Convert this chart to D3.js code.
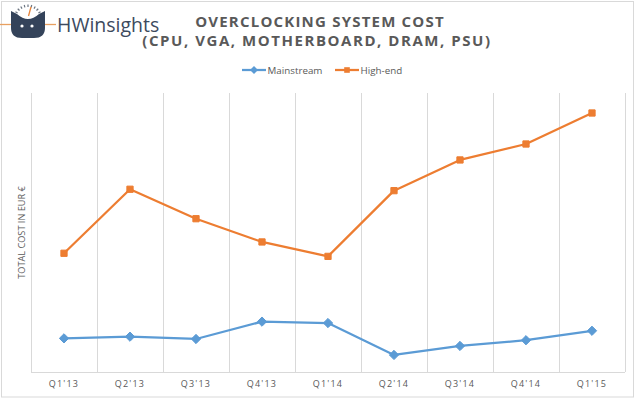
<!DOCTYPE html>
<html>

<head>
    <title>Overclocking System Cost</title>
    <script src="https://cdn.jsdelivr.net/npm/d3@7"></script>
    <style>
        body { margin: 0; background: #fff; }
        text { font-family: 'Open Sans', sans-serif; }
    </style>
</head>

<body>
    <svg width="640" height="399" id="mainsvg"></svg>
    <script>
        const quarters = ["Q1'13", "Q2'13", "Q3'13", "Q4'13", "Q1'14", "Q2'14", "Q3'14", "Q4'14", "Q1'15"];
        const mainstream = [617, 628, 613, 725, 716, 510, 568, 605, 666];
        const highEnd = [1166, 1579, 1389, 1239, 1146, 1570, 1768, 1871, 2071];
        const seriesNames = ['Mainstream', 'High-end'];
        const seriesColors = ['#5b9bd5', '#ed7d31'];

        const svg = d3.select('#mainsvg');
        const width = +svg.attr('width');
        const height = +svg.attr('height');
        const margin = { top: 93, right: 15, bottom: 27, left: 31 };
        const innerWidth = width - margin.left - margin.right;
        const innerHeight = height - margin.top - margin.bottom;

        // outer frame
        svg.append('rect').attr('x', 1.5).attr('y', 1.5).attr('width', 632).attr('height', 395.5)
            .attr('fill', '#fff').attr('stroke', '#d9d9d9');

        const g = svg.append('g').attr('id', 'maingroup')
            .attr('transform', `translate(${margin.left}, ${margin.top})`);

        const xScale = d3.scaleBand().domain(quarters).range([0, innerWidth]);
        const yScale = d3.scaleLinear().domain([400, 2200]).range([innerHeight, 0]);

        // vertical gridlines between categories
        const bounds = quarters.map(q => xScale(q)).concat([innerWidth]);
        g.selectAll('.grid').data(bounds).join('line')
            .attr('class', 'grid')
            .attr('x1', d => Math.round(d) + 0.5).attr('x2', d => Math.round(d) + 0.5)
            .attr('y1', 0).attr('y2', innerHeight)
            .attr('stroke', '#d9d9d9');

        const xAxis = d3.axisBottom(xScale).tickSize(0).tickPadding(9);
        const xAxisGroup = g.append('g').call(xAxis)
            .attr('transform', `translate(0, ${innerHeight})`);
        xAxisGroup.select('.domain').attr('stroke', '#d9d9d9').attr('d', `M0,0.5H${innerWidth}`);
        xAxisGroup.selectAll('text')
            .attr('fill', '#595959').attr('font-size', '9px')
            .attr('letter-spacing', '1.2px')
            .style('font-family', "'Open Sans', sans-serif");

        // y axis title
        svg.append('text')
            .attr('transform', `translate(25, ${margin.top + innerHeight / 2}) rotate(-90)`)
            .attr('text-anchor', 'middle')
            .attr('font-size', '9.2px').attr('fill', '#595959')
            .text('TOTAL COST IN EUR €');

        const line = d3.line()
            .x((d, i) => xScale(quarters[i]) + xScale.bandwidth() / 2)
            .y(d => yScale(d));

        [mainstream, highEnd].forEach((vals, s) => {
            g.append('path').datum(vals)
                .attr('fill', 'none')
                .attr('stroke', seriesColors[s])
                .attr('stroke-width', 2.25)
                .attr('stroke-linejoin', 'round')
                .attr('d', line);
            const sym = d3.symbol().type(s === 0 ? d3.symbolDiamond2 : d3.symbolSquare2).size(s === 0 ? 55 : 50);
            g.selectAll('.mark' + s).data(vals).join('path')
                .attr('class', 'mark' + s)
                .attr('transform', (d, i) => `translate(${xScale(quarters[i]) + xScale.bandwidth() / 2}, ${yScale(d)})`)
                .attr('d', sym)
                .attr('fill', seriesColors[s])
                .attr('stroke', seriesColors[s]);
        });

        // legend
        const legendX = [242, 335];
        seriesNames.forEach((name, s) => {
            const lg = svg.append('g').attr('transform', `translate(${legendX[s]}, 70)`);
            lg.append('line').attr('x1', 0).attr('x2', 24).attr('y1', 0).attr('y2', 0)
                .attr('stroke', seriesColors[s]).attr('stroke-width', 2.25);
            lg.append('path')
                .attr('transform', 'translate(12,0)')
                .attr('d', d3.symbol().type(s === 0 ? d3.symbolDiamond2 : d3.symbolSquare2).size(40))
                .attr('fill', seriesColors[s]);
            lg.append('text').attr('x', 25.5).attr('y', 3.8)
                .attr('font-size', '9.8px').attr('fill', '#595959')
                .text(name);
        });

        // titles
        svg.append('text').attr('x', 320).attr('y', 27)
            .attr('text-anchor', 'middle').attr('font-size', '15px').attr('font-weight', 'bold')
            .attr('letter-spacing', '1.2px').attr('fill', '#595959')
            .text('OVERCLOCKING SYSTEM COST');
        svg.append('text').attr('x', 317).attr('y', 46)
            .attr('text-anchor', 'middle').attr('font-size', '15px').attr('font-weight', 'bold')
            .attr('letter-spacing', '1.55px').attr('fill', '#595959')
            .text('(CPU, VGA, MOTHERBOARD, DRAM, PSU)');

        // logo
        const logo = svg.append('g').attr('id', 'logo');
        logo.append('line').attr('x1', 0).attr('x2', 11).attr('y1', 24.5).attr('y2', 24.5)
            .attr('stroke', '#e8a060').attr('stroke-width', 1.3);
        logo.append('line').attr('x1', 45).attr('x2', 56).attr('y1', 24.5).attr('y2', 24.5)
            .attr('stroke', '#e8a060').attr('stroke-width', 1.3);
        logo.append('path')
            .attr('d', 'M11,11 L17,14 Q28,24 39,14 L45,11 L45,28 Q45,38 34,38 L22,38 Q11,38 11,28 Z')
            .attr('fill', '#34435a');
        [22, 32].forEach(cx => logo.append('circle').attr('cx', cx).attr('cy', 26).attr('r', 1.6).attr('fill', '#fff'));
        d3.range(-150, -25, 15).forEach(a => {
            const r = a * Math.PI / 180;
            logo.append('line')
                .attr('x1', 28 + 12 * Math.cos(r)).attr('y1', 19 + 12 * Math.sin(r))
                .attr('x2', 28 + 14.5 * Math.cos(r)).attr('y2', 19 + 14.5 * Math.sin(r))
                .attr('stroke', '#6b7480').attr('stroke-width', 1.2);
        });
        logo.append('line').attr('x1', 28.5).attr('y1', 16).attr('x2', 31).attr('y2', 7)
            .attr('stroke', '#e8843a').attr('stroke-width', 1.3);
        svg.append('text').attr('x', 57).attr('y', 32)
            .attr('font-size', '19.5px').attr('fill', '#3c4a5e')
            .text('HWinsights');
    </script>
</body>

</html>
